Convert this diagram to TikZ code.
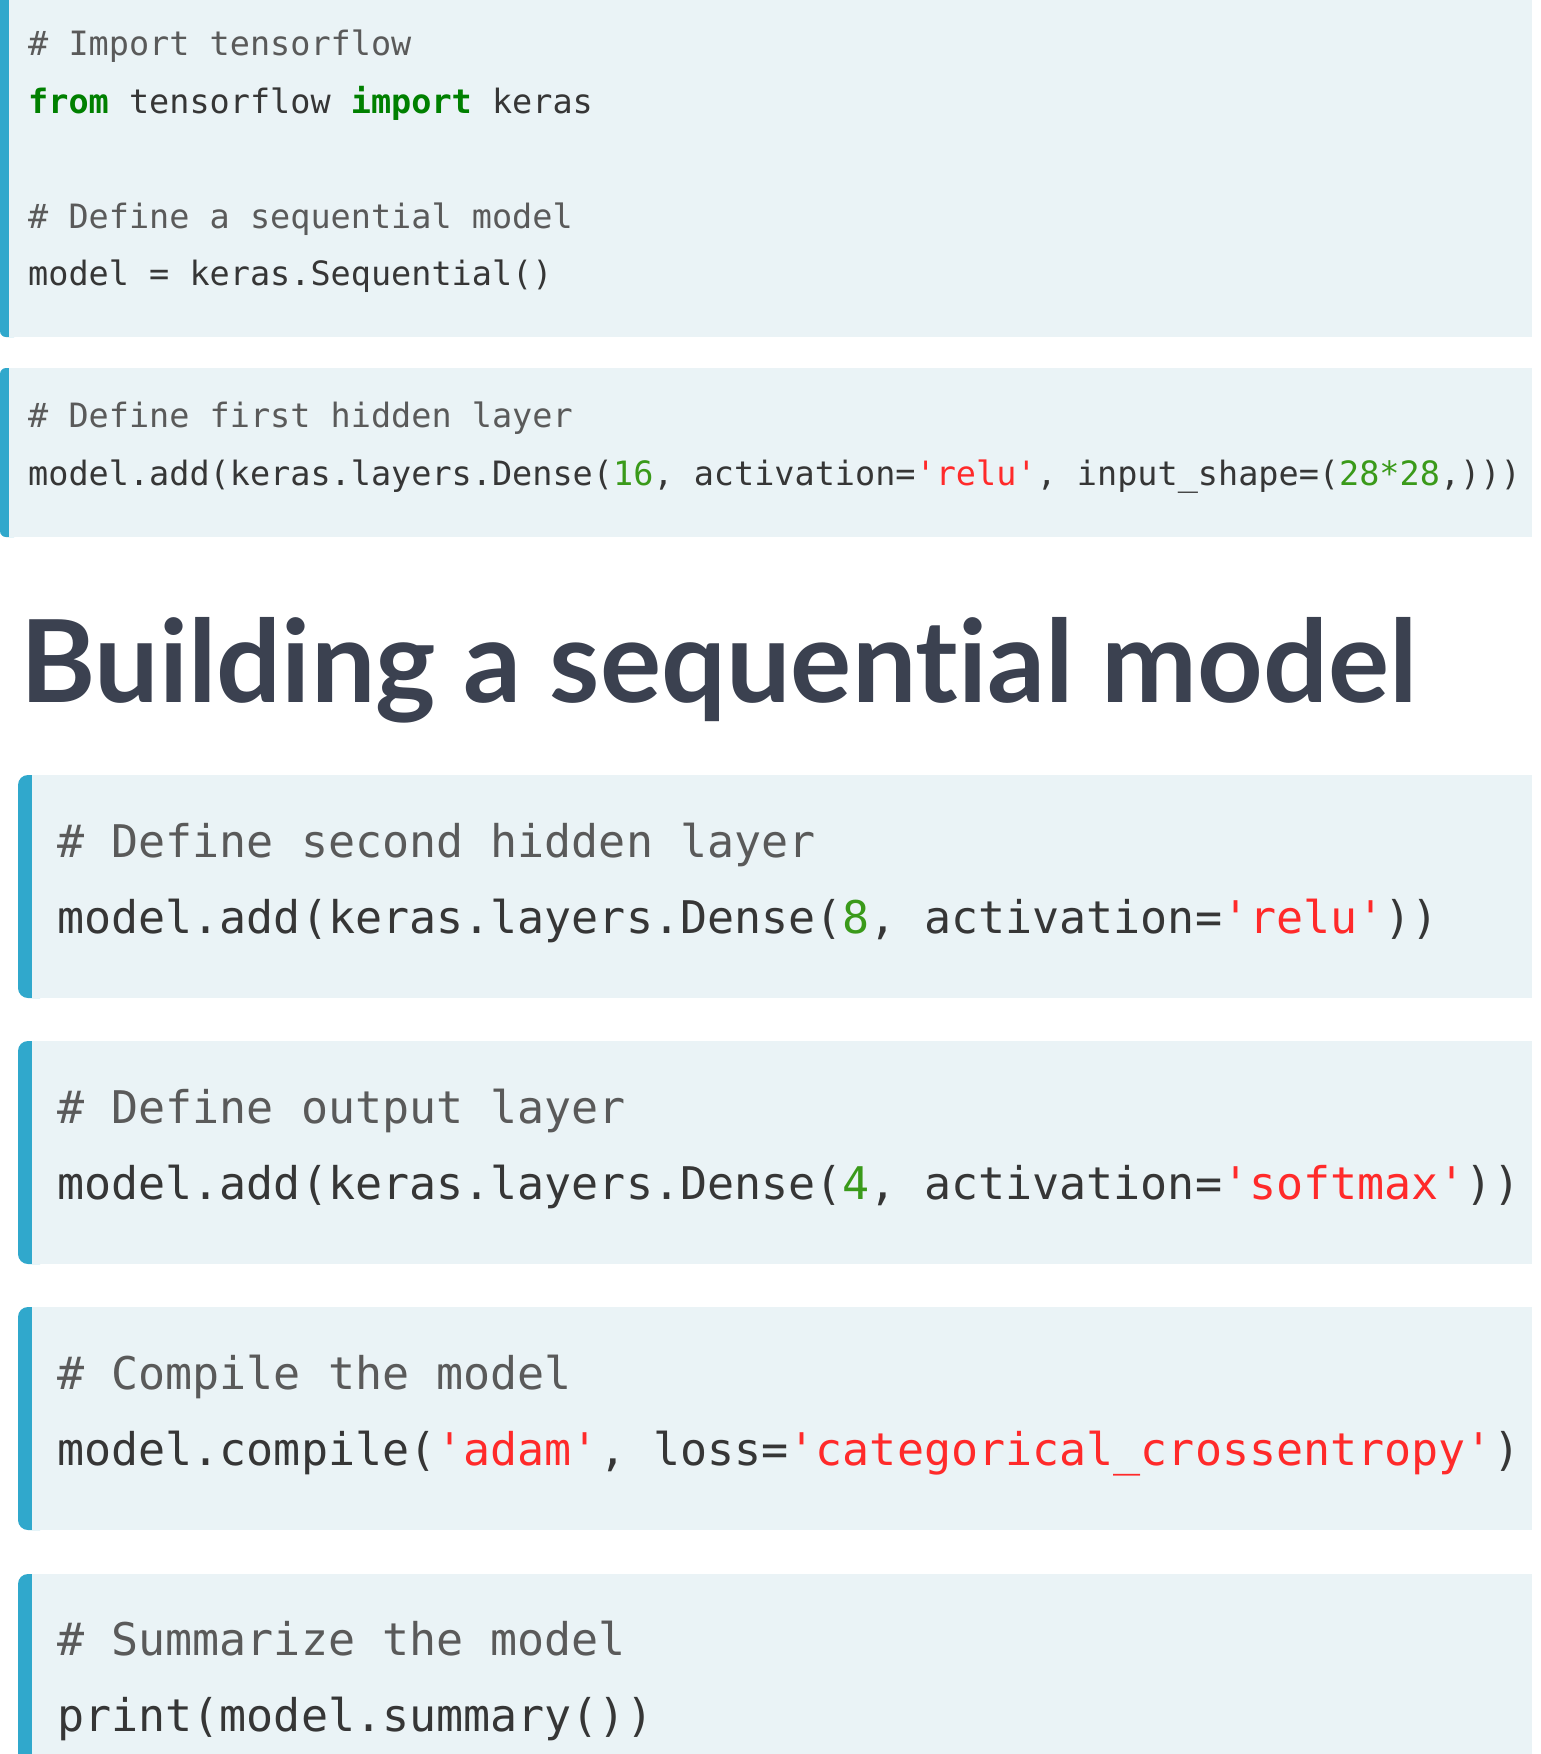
\documentclass[tikz,border=0pt]{standalone}
\usepackage{fontspec}
\newfontfamily\codefont{DejaVu Sans Mono}
\newfontfamily\titlefont{Lato}[Ligatures={NoCommon,NoDiscretionary,NoRare}]
\definecolor{barc}{HTML}{30A8CC}
\definecolor{bgc}{HTML}{EAF3F6}
\definecolor{cmt}{HTML}{5A5A5A}
\definecolor{codec}{HTML}{363636}
\definecolor{kw}{HTML}{008000}
\definecolor{num}{HTML}{3A9A1A}
\definecolor{str}{HTML}{FF2A2A}
\definecolor{ttl}{HTML}{3B4150}
\newcommand{\q}{\textquotesingle}
\newcommand{\nm}[1]{\textcolor{num}{#1}}
\newcommand{\st}[1]{\textcolor{str}{#1}}
\newcommand{\kwd}[1]{\textcolor{kw}{\bfseries #1}}
\begin{document}
\begin{tikzpicture}[x=1pt,y=-1pt,
  small/.style={anchor=base west,inner sep=0pt,font=\codefont\fontsize{33.5}{40}\selectfont,text=codec},
  big/.style={anchor=base west,inner sep=0pt,font=\codefont\fontsize{45}{54}\selectfont,text=codec},
  smallcmt/.style={small,text=cmt},
  bigcmt/.style={big,text=cmt}]
\useasboundingbox (0,0) rectangle (1540,1754);
\fill[white] (0,0) rectangle (1540,1754);
% block 1
\fill[barc,rounded corners=6] (0,-10) rectangle (20,337);
\fill[bgc] (9,-10) rectangle (1532,337);
% block 2
\fill[barc,rounded corners=6] (0,368) rectangle (20,537);
\fill[bgc] (9,368) rectangle (1532,537);
% lower blocks
\foreach \t/\b in {775/998,1041/1264,1307/1530,1574/1770}{
  \fill[barc,rounded corners=10] (18,\t) rectangle (50,\b);
  \fill[bgc] (32,\t) rectangle (1532,\b);
}
% block 1 text
\node[smallcmt] (l1) at (28,55) {\# Import tensorflow};
\node[small] (l2) at (28,113) {\kwd{from} tensorflow \kwd{import} keras};
\node[smallcmt] (l3) at (28,228) {\# Define a sequential model};
\node[small] (l4) at (28,285) {model = keras.Sequential()};
% block 2 text
\node[smallcmt] (l5) at (28,427) {\# Define first hidden layer};
\node[small] (l6) at (28,485) {model.add(keras.layers.Dense(\nm{16}, activation=\st{\q relu\q}, input\_shape=(\nm{28*28},)))};
% title
\node[anchor=base west,inner sep=0pt,font=\titlefont\bfseries\fontsize{114.5}{130}\selectfont,text=ttl] (title) at (20,702) {Building a sequential model};
% block 3
\node[bigcmt] (l7) at (57,857) {\# Define second hidden layer};
\node[big] (l8) at (57,933) {model.add(keras.layers.Dense(\nm{8}, activation=\st{\q relu\q}))};
% block 4
\node[bigcmt] (l9) at (57,1123) {\# Define output layer};
\node[big] (l10) at (57,1199) {model.add(keras.layers.Dense(\nm{4}, activation=\st{\q softmax\q}))};
% block 5
\node[bigcmt] (l11) at (57,1389) {\# Compile the model};
\node[big] (l12) at (57,1465) {model.compile(\st{\q adam\q}, loss=\st{\q categorical\_crossentropy\q})};
% block 6
\node[bigcmt] (l13) at (57,1655) {\# Summarize the model};
\node[big] (l14) at (57,1731) {print(model.summary())};
\end{tikzpicture}
\end{document}
